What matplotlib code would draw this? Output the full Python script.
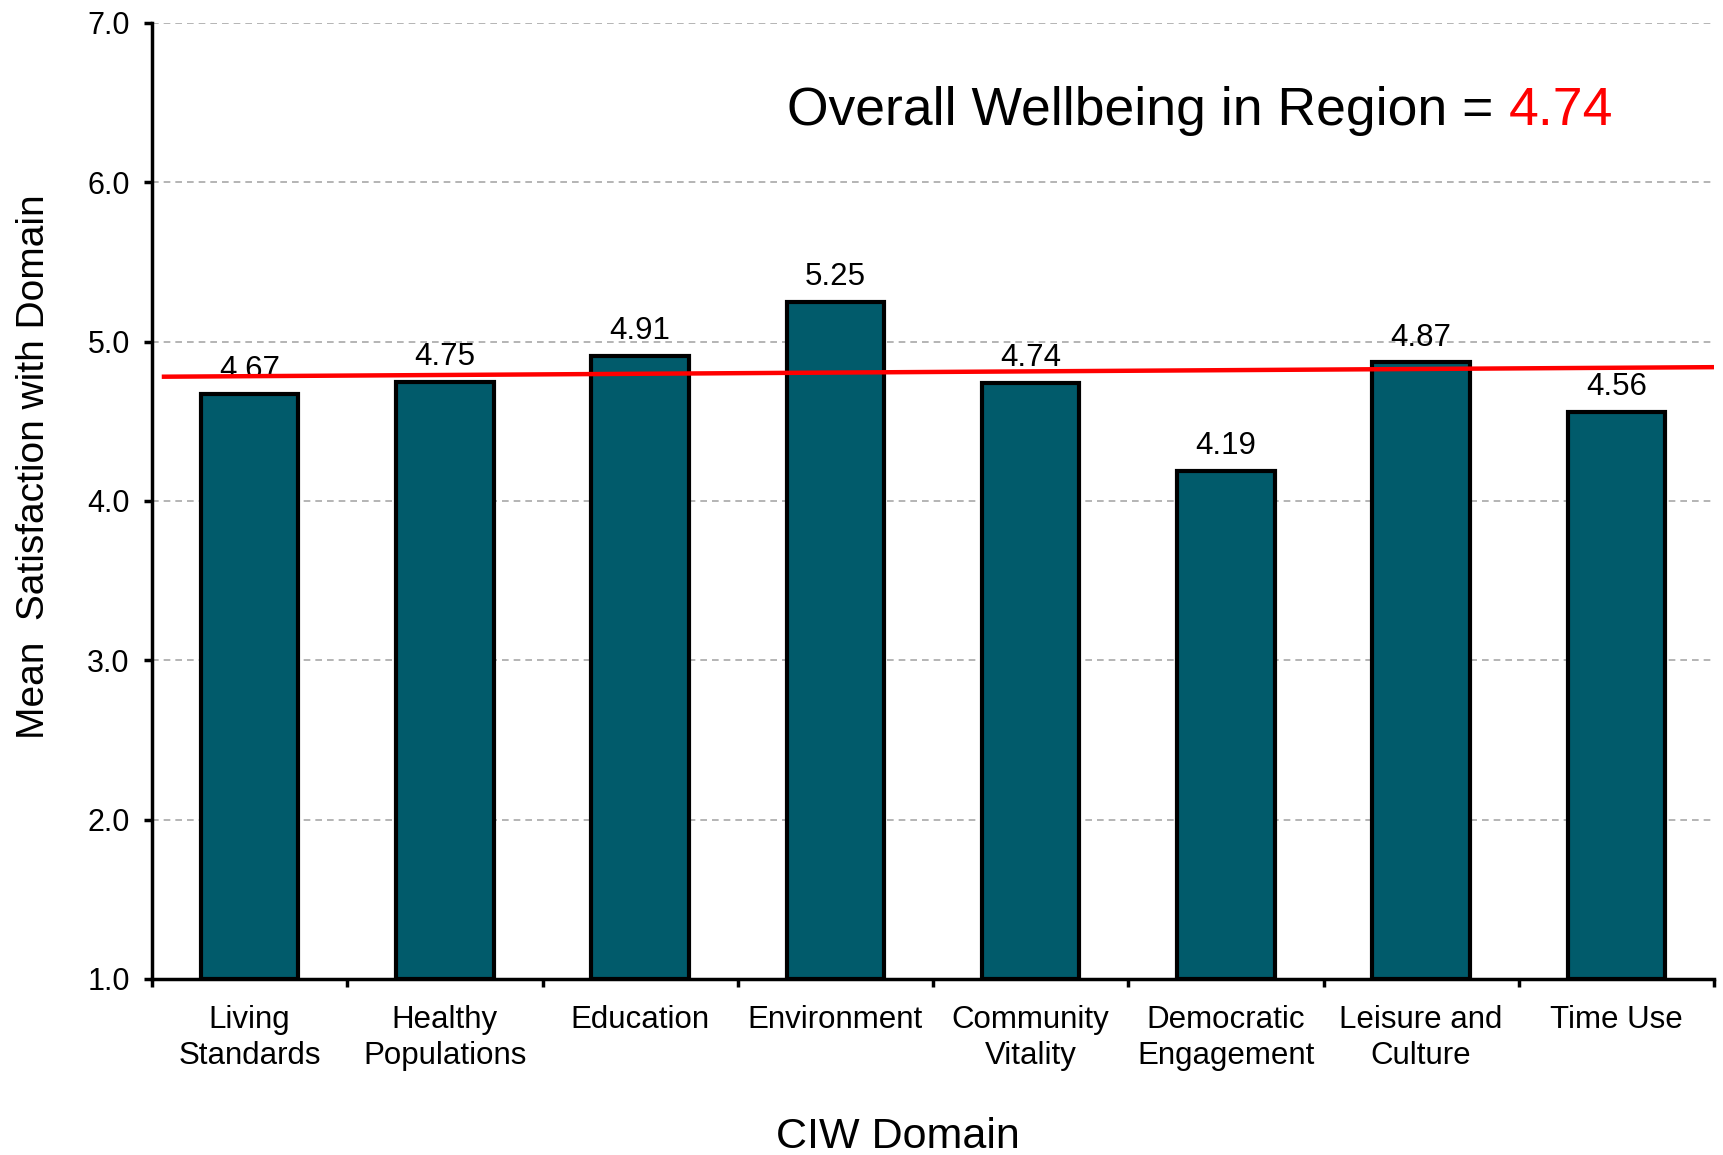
import numpy as np
import matplotlib
matplotlib.use("Agg")
import matplotlib.pyplot as plt
from matplotlib.ticker import FixedLocator, FormatStrFormatter

plt.rcParams['font.family'] = ['Liberation Sans', 'DejaVu Sans']

# data
domains = ["Living\nStandards", "Healthy\nPopulations", "Education", "Environment",
           "Community\nVitality", "Democratic\nEngagement", "Leisure and\nCulture", "Time Use"]
scores = [4.67, 4.75, 4.91, 5.25, 4.74, 4.19, 4.87, 4.56]
overall = 4.74
# red reference line, ends as drawn in the picture (category units, score)
ref_x = [-0.45, 7.5]
ref_y = [4.78, 4.84]
y_ticks = [1.0, 2.0, 3.0, 4.0, 5.0, 6.0, 7.0]

bar_col = "#015B6B"

fig = plt.figure(figsize=(17.23, 11.55), dpi=100)
ax = fig.add_axes([152/1723, 1-979/1155, (1714-152)/1723, (979-23)/1155])

x = np.arange(len(domains))
bars = ax.bar(x, np.array(scores)-1.0, bottom=1.0, width=0.5, color=bar_col,
              edgecolor="black", linewidth=3, zorder=3)

for xi, v in zip(x, scores):
    ax.annotate("%.2f" % v, (xi, v), xytext=(0, 12), textcoords="offset points",
                ha="center", va="baseline", fontsize=22.5, zorder=4)

ax.plot(ref_x, ref_y, color="red", lw=3.2, zorder=5, solid_capstyle="butt")

ax.set_xlim(-0.5, len(domains)-0.5)
ax.set_ylim(1.0, 7.0)
ax.yaxis.set_major_locator(FixedLocator(y_ticks))
ax.yaxis.set_major_formatter(FormatStrFormatter("%.1f"))
ax.tick_params(axis="y", direction="out", length=6, width=2.5, labelsize=22, pad=10)

ax.set_xticks(x)
ax.set_xticklabels(domains, fontsize=22.5, linespacing=1.25)
ax.set_xticks(np.arange(len(domains)+1)-0.5, minor=True)
ax.tick_params(axis="x", which="major", length=0, pad=19)
ax.tick_params(axis="x", which="minor", direction="out", length=6, width=2.5)

ax.grid(axis="y", color="#A8A8A8", linestyle=(0, (4, 3)), lw=1.2, zorder=0)
for s in ["top", "right"]:
    ax.spines[s].set_visible(False)
for s in ["left", "bottom"]:
    ax.spines[s].set_linewidth(2.5)
    ax.spines[s].set_zorder(6)

fig.text(34/1723, 1-467/1155, "Mean  Satisfaction with Domain", rotation=90,
         ha="center", va="center", fontsize=28)
fig.text(898/1723, 1-1148/1155, "CIW Domain", ha="center", va="baseline", fontsize=31)

fig.text(1493/1723, 1-125/1155, "Overall Wellbeing in Region =", ha="right",
         va="baseline", fontsize=38.5)
fig.text(1509/1723, 1-125/1155, "%.2f" % overall, ha="left", va="baseline",
         fontsize=38.5, color="red")

fig.savefig("out.png", dpi=100)
